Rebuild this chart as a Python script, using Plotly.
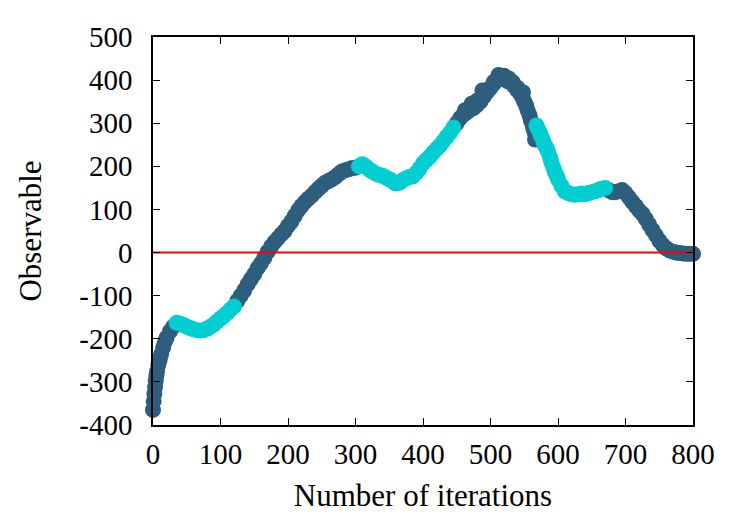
import plotly.graph_objects as go

# Iterations and observable values
iters = [0, 1, 2, 3, 4, 5, 6, 8, 10, 12, 15, 18, 20, 25, 30,
         35, 40, 45, 50, 55, 60, 65, 70, 75, 80, 85, 90, 95, 100, 105, 110, 115, 120,
         125, 130, 135, 140, 145, 150, 155, 160, 165, 170, 175, 180, 185, 190, 195, 200,
         205, 210, 215, 220, 225, 230, 235, 240, 245, 250, 255, 260, 265, 270, 275, 280,
         285, 290, 295, 300,
         305, 310, 315, 320, 325, 330, 335, 340, 345, 350, 355, 360, 365, 370, 375, 380,
         385, 390, 395, 400, 405, 410, 415, 420, 425, 430, 435, 440, 445,
         450, 455, 460, 465, 470, 475, 480, 485, 490, 495, 500, 505, 510, 515, 520, 525,
         530, 535, 540, 545, 548, 550, 553, 555, 558, 560, 563, 565, 566,
         568, 570, 573, 575, 578, 580, 583, 585, 588, 590, 593, 595, 598, 600, 605, 610,
         615, 620, 625, 630, 635, 640, 645, 650, 655, 660, 665, 670,
         675, 680, 685, 690, 695, 700, 705, 710, 715, 720, 725, 730, 735, 740, 745, 750,
         755, 760, 765, 770, 775, 780, 785, 790, 795, 800]
obs = [-365, -345, -328, -312, -298, -286, -276, -260, -248, -236, -220, -206, -198, -183, -172,
       -163, -165, -168, -172, -175, -178, -180, -181, -180, -177, -172, -167, -160, -153, -147, -140, -132, -125,
       -112, -100, -88, -74, -62, -50, -36, -25, -12, 2, 14, 24, 33, 42, 50, 62,
       72, 85, 98, 108, 117, 125, 132, 140, 148, 155, 162, 166, 170, 175, 182, 188,
       191, 193, 196, 197,
       200, 205, 200, 193, 188, 183, 180, 178, 174, 170, 165, 160, 162, 168, 172, 175,
       177, 185, 195, 207, 215, 222, 232, 240, 248, 258, 268, 278, 290,
       300, 312, 320, 325, 332, 335, 342, 350, 362, 372, 382, 392, 402, 406, 402, 398,
       394, 386, 376, 366, 358, 350, 340, 330, 318, 305, 290, 280, 262,
       295, 288, 278, 270, 260, 250, 242, 235, 222, 210, 198, 188, 178, 170, 155, 142,
       138, 135, 134, 135, 137, 135, 138, 140, 142, 145, 148, 150,
       145, 140, 140, 142, 145, 138, 128, 118, 108, 98, 90, 78, 65, 52, 40, 28,
       18, 10, 5, 2, 0, -1, -2, -3, -3, -3]

# extra scattered points that thicken the band near the peak
extra_iters = [462, 472, 480, 488, 497, 505, 512, 520, 527, 533, 540, 548]
extra_obs = [330, 345, 352, 376, 378, 396, 412, 410, 404, 395, 382, 372]

# iteration ranges drawn in the light (cyan) colour
cyan_ranges = [(35, 120), (305, 445), (568, 670)]

DARK = "#2d5e7e"
CYAN = "#00ced1"


def is_cyan(i):
    return any(a <= i <= b for a, b in cyan_ranges)


all_x = iters + extra_iters
all_y = obs + extra_obs
dx = [i for i in all_x if not is_cyan(i)]
dy = [v for i, v in zip(all_x, all_y) if not is_cyan(i)]
cx = [i for i in all_x if is_cyan(i)]
cy = [v for i, v in zip(all_x, all_y) if is_cyan(i)]

fig = go.Figure()
fig.add_trace(go.Scatter(x=dx, y=dy, mode="markers", cliponaxis=False,
                         marker=dict(color=DARK, size=16, line=dict(width=0)),
                         showlegend=False))
fig.add_trace(go.Scatter(x=cx, y=cy, mode="markers", cliponaxis=False,
                         marker=dict(color=CYAN, size=16, line=dict(width=0)),
                         showlegend=False))
fig.add_trace(go.Scatter(x=[0, 800], y=[0, 0], mode="lines",
                         line=dict(color="red", width=2), showlegend=False))

FAM = "Liberation Serif, Times New Roman, serif"
tick_font = dict(family=FAM, size=29, color="black")
title_font = dict(family=FAM, size=31, color="black")
axis_common = dict(showline=True, linecolor="black", linewidth=1.5, mirror="ticks",
                   ticks="inside", ticklen=7, tickwidth=1.2, tickcolor="black",
                   showgrid=False, zeroline=False, tickfont=tick_font)

x_ticks = list(range(0, 801, 100))
y_ticks = list(range(-400, 501, 100))

fig.update_xaxes(range=[0, 800], tickvals=x_ticks, ticktext=[str(t) for t in x_ticks],
                 title=dict(text="Number of iterations", font=title_font, standoff=16),
                 ticklabelstandoff=2, **axis_common)
fig.update_yaxes(range=[-400, 500], tickvals=y_ticks, ticktext=[str(t) for t in y_ticks],
                 title=dict(text="Observable", font=title_font, standoff=28),
                 ticklabelstandoff=13, **axis_common)

fig.update_layout(width=750, height=525, plot_bgcolor="white", paper_bgcolor="white",
                  margin=dict(l=153, r=57, t=37, b=100), font=tick_font)

fig.write_html("out.html")
